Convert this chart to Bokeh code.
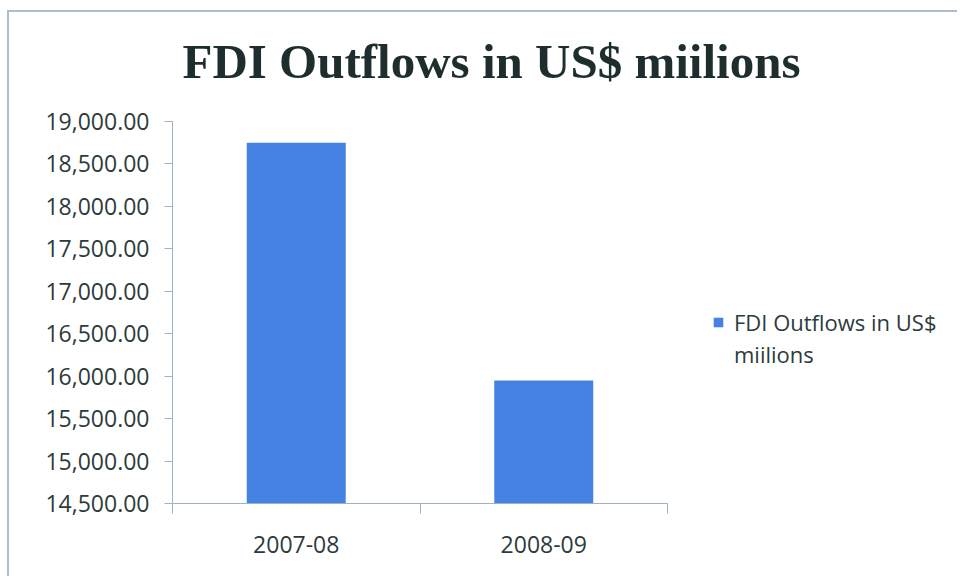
from bokeh.plotting import figure
from bokeh.models import (Range1d, FixedTicker, LinearAxis, Legend, LegendItem,
                          NumeralTickFormatter, ColumnDataSource, BoxAnnotation, Label)
from bokeh.embed import file_html
from bokeh.resources import INLINE

# ---- data ----
title_text = "FDI Outflows in US$ miilions"
series_name_lines = ["FDI Outflows in US$", "miilions"]
categories = ["2007-08", "2008-09"]
values = [18750.0, 15950.0]
y_min = 14500
y_max = 19000
y_step = 500

# ---- layout (pixels) ----
W, H = 950, 566
left_px, bottom_px = 163, 75
cat_area_px = 495          # width of the plotting area holding the categories
val_area_px = 382          # height of the plotting area from y_min to y_max
frame_w = W - left_px
frame_h = H - bottom_px
n = len(categories)
x_end = n * frame_w / cat_area_px
y_end = y_min + (y_max - y_min) * frame_h / val_area_px

bar_color = "#4682e4"
text_color = "#2d3b3b"
grid_color = "#9fb2c2"

xs = [i + 0.5 for i in range(n)]
source = ColumnDataSource(dict(x=xs, top=values, bottom=[y_min] * n, cat=categories))

p = figure(width=W, height=H, output_backend="svg", toolbar_location=None,
           x_range=Range1d(0, x_end), y_range=Range1d(y_min, y_end),
           x_axis_type=None, y_axis_type=None,
           min_border_left=left_px, min_border_right=0, min_border_top=0,
           min_border_bottom=bottom_px)
p.outline_line_color = None
p.background_fill_color = "white"
p.border_fill_color = "white"
p.styles = {"border-top": "2px solid #aebccb", "border-left": "2px solid #aebccb",
            "margin-left": "7px", "margin-top": "10px"}

yticks = list(range(y_min, y_max + 1, y_step))
p.ygrid.ticker = FixedTicker(ticks=yticks)
p.ygrid.grid_line_color = grid_color
p.ygrid.grid_line_width = 1
p.xgrid.grid_line_color = None

# white cover so the grid stops at the end of the category area
p.add_layout(BoxAnnotation(left=n, fill_color="white", fill_alpha=1.0,
                           line_color=None, level="glyph"))

r = p.vbar(x="x", top="top", bottom="bottom", width=0.4, source=source,
           fill_color=bar_color, line_color=None)
# invisible renderer used only for the wrapped second line of the legend label
r_blank = p.vbar(x=[], top=[], bottom=[], width=0.4, fill_alpha=0, line_alpha=0)

# y axis
yax = LinearAxis(ticker=FixedTicker(ticks=yticks),
                 formatter=NumeralTickFormatter(format="0,0.00"), bounds=(y_min, y_max))
yax.axis_line_color = grid_color
yax.major_tick_line_color = grid_color
yax.major_tick_out = 8
yax.major_tick_in = 0
yax.minor_tick_line_color = None
yax.major_label_text_font = "Open Sans"
yax.major_label_text_font_size = "23px"
yax.major_label_text_color = text_color
yax.major_label_standoff = 15
p.add_layout(yax, "left")

# x axis: ticks at category boundaries
xax = LinearAxis(ticker=FixedTicker(ticks=list(range(n + 1))), bounds=(0, n))
xax.axis_line_color = grid_color
xax.major_tick_line_color = grid_color
xax.major_tick_out = 10
xax.major_tick_in = 0
xax.minor_tick_line_color = None
xax.major_label_text_font_size = "0px"
xax.major_label_standoff = 0
xax.major_label_overrides = {i: "" for i in range(n + 1)}
p.add_layout(xax, "below")

# x labels at category centers
xlab = LinearAxis(ticker=FixedTicker(ticks=xs))
xlab.axis_line_color = None
xlab.major_tick_line_color = None
xlab.minor_tick_line_color = None
xlab.major_label_overrides = {x: c for x, c in zip(xs, categories)}
xlab.major_label_text_font = "Open Sans"
xlab.major_label_text_font_size = "23px"
xlab.major_label_text_color = text_color
xlab.major_label_standoff = 16
p.add_layout(xlab, "below")

# title (positioned from pixel layout constants)
title_cx_px, title_base_px = 319, 442   # from frame left / frame bottom
p.add_layout(Label(x=title_cx_px * n / cat_area_px,
                   y=y_min + title_base_px * (y_max - y_min) / val_area_px,
                   text=title_text, text_align="center", text_baseline="alphabetic",
                   text_font="Liberation Serif", text_font_style="bold",
                   text_font_size="49px", text_color="#1e2e2e"))

legend = Legend(items=[LegendItem(label=series_name_lines[0], renderers=[r]),
                       LegendItem(label=series_name_lines[1], renderers=[r_blank])],
                location=(540, 134), orientation="vertical")
legend.border_line_color = None
legend.background_fill_alpha = 0
legend.label_text_font = "Open Sans"
legend.label_text_font_size = "22px"
legend.label_text_color = text_color
legend.glyph_width = 12
legend.glyph_height = 12
legend.label_standoff = 10
legend.spacing = 2
legend.padding = 0
legend.margin = 0
p.add_layout(legend, "center")

open("out.html", "w").write(file_html(p, INLINE))
